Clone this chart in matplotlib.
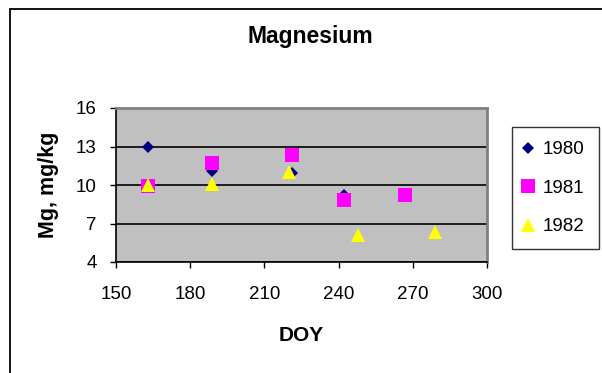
import matplotlib
matplotlib.use("Agg")
import matplotlib.pyplot as plt
from matplotlib.patches import Rectangle

plt.rcParams['font.family'] = ['Liberation Sans', 'DejaVu Sans']

# Data
doy_1980 = [163, 189, 221, 242]
mg_1980 = [13.0, 11.1, 10.9, 9.2]
doy_1981 = [163, 189, 221, 242, 267]
mg_1981 = [9.9, 11.7, 12.3, 8.8, 9.2]
doy_1982 = [163, 189, 220, 248, 279]
mg_1982 = [10.0, 10.1, 11.0, 6.1, 6.3]
series_labels = ['1980', '1981', '1982']
x_ticks = [150, 180, 210, 240, 270, 300]
y_ticks = [4, 7, 10, 13, 16]

W, H = 602, 373
fig = plt.figure(figsize=(W / 100, H / 100), dpi=100)
fig.patch.set_facecolor('white')

# outer chart frame (extends past right/bottom edge)
fig.patches.append(Rectangle((9.5 / W, -0.1), 1.2, (H - 8.5) / H + 0.1,
                             transform=fig.transFigure, fill=False,
                             edgecolor='black', linewidth=1.3, zorder=0))

ax = fig.add_axes([116 / W, (H - 262) / H, (487 - 116) / W, (262 - 108) / H])
ax.set_facecolor('#C0C0C0')

ax.plot(doy_1980, mg_1980, linestyle='none', marker='D', markersize=5.8,
        color='#000080', markeredgewidth=0, label=series_labels[0], zorder=3)
ax.plot(doy_1981, mg_1981, linestyle='none', marker='s', markersize=9.5,
        color='#FF00FF', markeredgewidth=0, label=series_labels[1], zorder=4)
ax.plot(doy_1982, mg_1982, linestyle='none', marker='^', markersize=9.5,
        color='#FFFF00', markeredgewidth=0, label=series_labels[2], zorder=5)

ax.set_xlim(150, 300)
ax.set_ylim(4, 16)
ax.set_xticks(x_ticks)
ax.set_yticks(y_ticks)
ax.yaxis.grid(True, color='black', linewidth=1.2)
ax.set_axisbelow(True)

for s in ['top', 'right']:
    ax.spines[s].set_color('#808080')
    ax.spines[s].set_linewidth(2)
for s in ['left', 'bottom']:
    ax.spines[s].set_color('black')
    ax.spines[s].set_linewidth(1.2)

ax.tick_params(axis='both', direction='out', length=4, width=1,
               labelsize=13.5, colors='black')
ax.tick_params(axis='x', pad=13)
ax.tick_params(axis='y', pad=10)

ax.set_xlabel('DOY', fontsize=15, fontweight='bold', labelpad=17)
ax.set_ylabel('Mg, mg/kg', fontsize=15.5, fontweight='bold', labelpad=12)
fig.text(310 / W, 1 - 37 / H, 'Magnesium', fontsize=16.5, fontweight='bold',
         ha='center', va='center')

leg = ax.legend(loc='upper left', bbox_to_anchor=(512 / W, 1 - 127 / H),
                bbox_transform=fig.transFigure, borderaxespad=0,
                frameon=True, fancybox=False, edgecolor='black',
                fontsize=13.5, labelspacing=1.14, handlelength=0.25,
                handletextpad=0.65, borderpad=0.75, markerscale=1.0)
leg.get_frame().set_linewidth(1.0)

fig.savefig('out.png', dpi=100)
